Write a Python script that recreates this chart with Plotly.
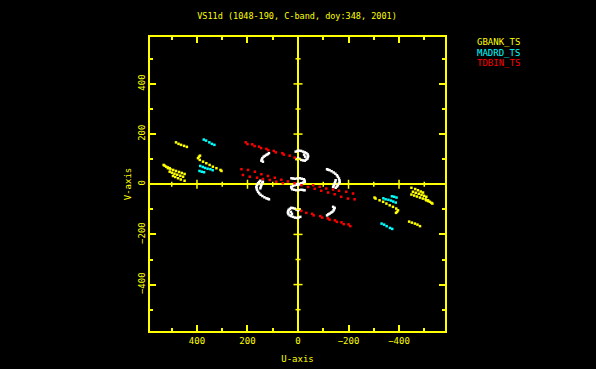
import plotly.graph_objects as go

# ---------------- data (u, v in kilo-lambda); conjugate points (-u,-v) are plotted too
series_names = ["GBANK_TS", "MADRD_TS", "TDBIN_TS", "other"]
series_colors = ["#ffff00", "#00ffff", "#ff0000", "#ffffff"]

gbank_u = [483, 473, 463, 451, 440,
           388, 392, 396, 389, 376, 363, 350, 337, 323, 307, 303,
           532, 528, 522, 515, 508,
           515, 505, 494, 483, 471, 460, 449,
           508, 499, 489, 478, 466, 455,
           495, 486, 475, 464, 449]
gbank_v = [167, 161, 157, 153, 149,
           114, 110, 104, 97, 90, 84, 77, 70, 64, 57, 53,
           77, 74, 70, 67, 64,
           64, 60, 57, 53, 49, 45, 41,
           50, 46, 42, 38, 34, 30,
           33, 29, 24, 19, 14]

madrd_u = [373, 364, 351, 341, 331,
           387, 377, 368, 358, 347, 338,
           390, 381, 372]
madrd_v = [178, 174, 167, 161, 157,
           73, 69, 65, 62, 60, 56,
           53, 50, 48]

tdbin_u = [207, 181, 154, 125, 96, 62, 33, 13,
           200, 172, 146, 118, 88, 56,
           224, 198, 171, 145, 119, 92, 66, 40, 14,
           218, 191, 162, 139, 112, 86, 60]
tdbin_v = [167, 159, 150, 141, 133, 124, 114, 106,
           160, 152, 144, 136, 127, 118,
           60, 57, 50, 40, 33, 26, 18, 11, 4,
           37, 30, 26, 21, 17, 10, 4]

other_u = [9, 2, -4, -12, -20, -27, -33, -38, -40, -39, -37, -32, -27, -20, -13, -6, 0, 6, -24, -28,
           149, 154, 158, 162, 165, 164, 162, 158, 154, 148, 141, 133, 125, 119, 115, 139, 142, 145, 147, 149,
           115, 120, 125, 131, 136, 141, 143, 145, 139,
           26, 20, 13, 3, -7, -15, -23, -26, -27, -20, -13, -3, 6]
other_v = [130, 133, 134, 133, 130, 127, 124, 119, 113, 108, 102, 98, 94, 95, 97, 101, 104, 100, 118, 110,
           14, 9, 4, -3, -10, -16, -23, -30, -36, -42, -47, -52, -56, -58, -60, 10, 4, -3, -9, -16,
           124, 120, 117, 113, 110, 104, 99, 94, 90,
           24, 23, 22, 23, 24, 22, 20, 15, 10, 7, 4, 2, 1]

all_u = [gbank_u, madrd_u, tdbin_u, other_u]
all_v = [gbank_v, madrd_v, tdbin_v, other_v]

major_ticks = [-400, -200, 200, 400]
minor_ticks = [-500, -300, -100, 100, 300, 500]
x_range = [586, -582]
y_range = [-585, 587]

YEL = "#ffff00"
FONT = "DejaVu Sans Mono"

fig = go.Figure()
# draw in order: white first so coloured points show on top
for idx in [3, 2, 1, 0]:
    u, v = all_u[idx], all_v[idx]
    fig.add_trace(go.Scatter(
        x=list(u) + [-a for a in u],
        y=list(v) + [-b for b in v],
        mode="markers",
        marker=dict(symbol="square", size=2.5, color=series_colors[idx], line=dict(width=0)),
        name=series_names[idx],
        showlegend=False,
        hoverinfo="x+y",
    ))

# tick marks on the zero cross-hair lines
shapes = []
for t, half in [(t, 18) for t in major_ticks] + [(t, 10) for t in minor_ticks]:
    shapes.append(dict(type="line", xref="x", yref="y", x0=t, x1=t, y0=-half, y1=half,
                       line=dict(color=YEL, width=1.5)))
    shapes.append(dict(type="line", xref="x", yref="y", x0=-half, x1=half, y0=t, y1=t,
                       line=dict(color=YEL, width=1.5)))

# legend as coloured text
annotations = []
for i, (nm, col) in enumerate(zip(series_names[:3], series_colors[:3])):
    annotations.append(dict(text=nm, xref="paper", yref="paper",
                            x=(475 - 150) / 295, y=(331 - 42.3 - 10.5 * i) / 294,
                            xanchor="left", yanchor="middle", showarrow=False,
                            font=dict(family=FONT, size=9, color=col)))

axis_common = dict(
    showgrid=False,
    zeroline=True, zerolinecolor=YEL, zerolinewidth=1.5,
    showline=True, linecolor=YEL, linewidth=1.5, mirror="ticks",
    ticks="inside", ticklen=6, tickwidth=1.5, tickcolor=YEL,
    tickvals=[-400, -200, 0, 200, 400],
    minor=dict(ticks="inside", ticklen=3, tickwidth=1.5, tickcolor=YEL,
               tickvals=minor_ticks, showgrid=False),
    tickfont=dict(family=FONT, size=9, color=YEL),
    fixedrange=True,
)

fig.update_layout(
    width=596, height=369,
    paper_bgcolor="black", plot_bgcolor="black",
    margin=dict(l=150, r=151, t=37, b=38, autoexpand=False),
    title=dict(text="VS11d (1048-190, C-band, doy:348, 2001)",
               x=297 / 596, xanchor="center", y=1 - 16 / 369, yanchor="middle",
               yref="container", font=dict(family=FONT, size=8.5, color=YEL)),
    xaxis=dict(range=x_range, title=dict(text="U-axis", standoff=11,
                                         font=dict(family=FONT, size=9, color=YEL)),
               **axis_common),
    yaxis=dict(range=y_range, tickangle=-90,
               title=dict(text="V-axis", standoff=4, font=dict(family=FONT, size=9, color=YEL)),
               **axis_common),
    shapes=shapes,
    annotations=annotations,
    showlegend=False,
)

fig.write_html("out.html", config={"displayModeBar": False},
               post_script="document.body.style.margin='0';document.body.style.background='black';")
